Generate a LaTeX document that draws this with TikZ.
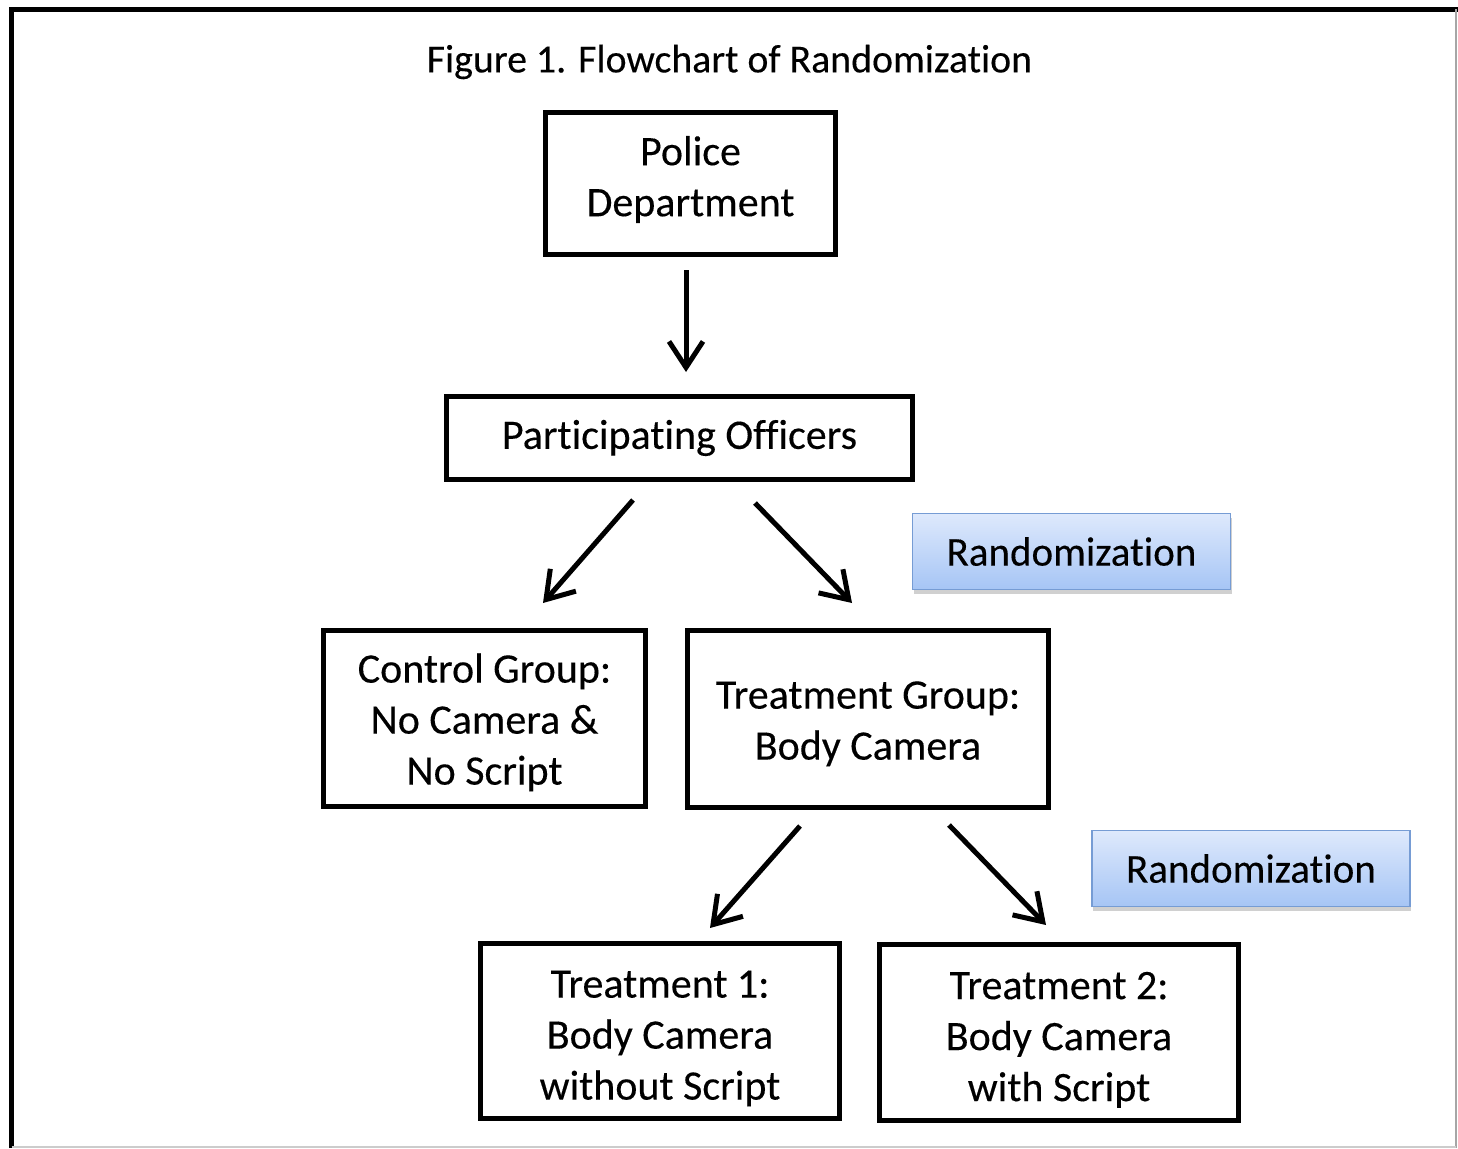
\documentclass[tikz,border=0pt]{standalone}
\usepackage{fontspec}
\setmainfont{Carlito}[FakeBold=0.25,RawFeature=-liga]
\usetikzlibrary{arrows.meta,calc,shadows}
\definecolor{rtop}{RGB}{222,233,252}
\definecolor{rbot}{RGB}{166,197,245}
\definecolor{rborder}{RGB}{118,156,212}
\begin{document}
\begin{tikzpicture}[x=1pt,y=-1pt,
  box/.style={draw=black,line width=5pt,align=center,inner sep=0pt,
    font=\fontsize{42}{51}\selectfont},
  randbox/.style={draw=rborder,line width=1.5pt,top color=rtop,bottom color=rbot,
    minimum width=318pt,minimum height=76pt,inner sep=0pt,
    font=\fontsize{41}{50}\selectfont,
    drop shadow={shadow xshift=1pt,shadow yshift=-4pt,opacity=0.3,fill=black!60}},
  arr/.style={line width=5pt,-{Straight Barb[length=26pt,width=34pt,line width=5pt]}}]
\useasboundingbox (0,0) rectangle (1458,1148);
\fill[white] (0,0) rectangle (1458,1148);
% frame
\draw[line width=5pt] (11.5,1148) -- (11.5,9.5) -- (1458,9.5);
\draw[gray!70,line width=1.5pt] (1456,9.5) -- (1456,1148);
\draw[gray!40,line width=1.5pt] (11.5,1147) -- (1456,1147);
% title
\node[font=\fontsize{39.8}{46}\selectfont] (title) at (729.5,62) {Figure 1. Flowchart of Randomization};
% boxes
\node[box,minimum width=290pt,minimum height=142pt] (PD) at (690.5,183.5) {Police\\Department\vspace*{8pt}};
\node[box,minimum width=466pt,minimum height=83pt] (PO) at (679.5,438) {Participating Officers};
\node[box,minimum width=322pt,minimum height=176pt] (CG) at (484.5,718.5) {\rule{0pt}{37pt}Control Group:\\No Camera \&\\No Script};
\node[box,minimum width=361pt,minimum height=177pt] (TG) at (868,719) {\rule{0pt}{37pt}Treatment Group:\\Body Camera};
\node[box,minimum width=359pt,minimum height=175pt] (T1) at (660,1031) {\rule{0pt}{42pt}Treatment 1:\\Body Camera\\without Script};
\node[box,minimum width=359pt,minimum height=176pt] (T2) at (1059,1032.5) {\rule{0pt}{42pt}Treatment 2:\\Body Camera\\with Script};
\node[randbox] (R1) at (1071.5,551.5) {Randomization};
\node[randbox] (R2) at (1251,868.5) {Randomization};
% arrows
\draw[arr] ($(PD.south)+(-4.5,13)$) -- ($(PO.north)+(6.5,-22)$);
\draw[arr] ($(PO.south)+(-46.5,18)$) -- ($(CG.north)+(58.5,-25)$);
\draw[arr] ($(PO.south)+(75.5,21)$) -- ($(TG.north)+(-16,-25)$);
\draw[arr] ($(TG.south)+(-68,16)$) -- ($(T1.north)+(50,-13)$);
\draw[arr] ($(TG.south)+(81,15)$) -- ($(T2.north)+(-13,-17)$);
\end{tikzpicture}
\end{document}
